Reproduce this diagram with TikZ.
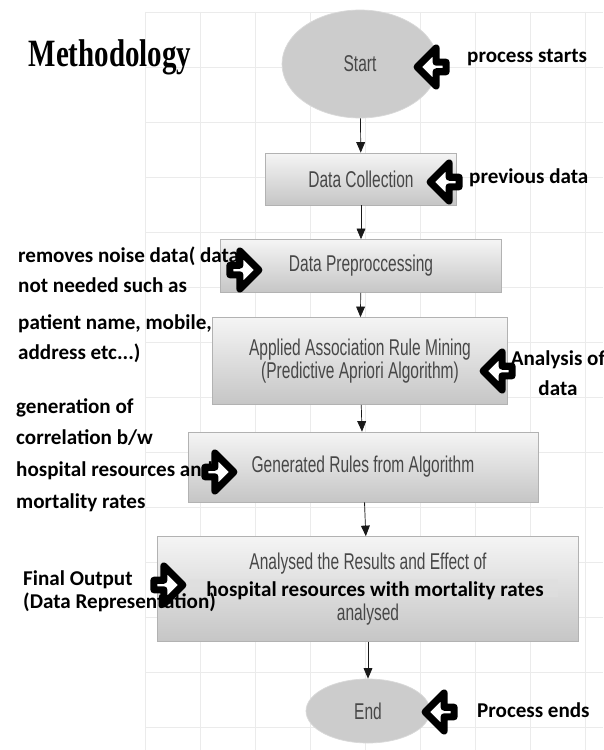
\documentclass[tikz,border=0pt]{standalone}
\usepackage{fontspec}
\setmainfont{Carlito}
\newfontfamily\boxfont{Liberation Sans}[FakeStretch=0.68]
\newfontfamily\titlefont{Liberation Serif}[FakeStretch=0.75]
\usepackage{tikz}
\usetikzlibrary{shapes.geometric, shapes.arrows, arrows.meta}
\definecolor{boxtext}{rgb}{0.28,0.28,0.28}
\definecolor{gridline}{rgb}{0.92,0.92,0.92}
\definecolor{ovalgray}{rgb}{0.8,0.8,0.8}

\begin{document}
\begin{tikzpicture}[x=0.02cm, y=-0.02cm,
    box/.style={rectangle, draw=gray!60, top color=gray!8, bottom color=gray!45, align=center, text=boxtext, font=\boxfont\fontsize{13}{14}\selectfont},
    oval/.style={ellipse, draw=gray!30, fill=ovalgray, text=boxtext, font=\boxfont\fontsize{13}{14}\selectfont},
    arrow/.style={-{Triangle[length=6pt,width=5pt]}, gray!20!black, thin},
    pointer/.style={single arrow, draw=black, line width=4pt, line join=round, fill=white, minimum height=0.58cm, minimum width=0.76cm, single arrow head extend=0.21cm, inner sep=0pt},
    note/.style={font=\bfseries\fontsize{12}{17}\selectfont, align=left, anchor=west}
]
\useasboundingbox (0,0) rectangle (603,750);
\fill[white] (0,0) rectangle (603,750);

% background grid
\foreach \gx in {145,200,...,600} \draw[gridline] (\gx,12) -- (\gx,750);
\foreach \gy in {12,67,...,750} \draw[gridline] (145,\gy) -- (603,\gy);

\node[font=\titlefont\bfseries\fontsize{22}{24}\selectfont] (title) at (110,57) {Methodology};

\node[oval, minimum width=3.12cm, minimum height=2.16cm] (start) at (360,64) {Start};
\node[box, minimum width=3.82cm, minimum height=1.04cm] (collect) at (361,179) {Data Collection};
\node[box, minimum width=5.62cm, minimum height=1.06cm] (prep) at (361,266) {Data Preproccessing};
\node[box, minimum width=5.9cm, minimum height=1.74cm] (mining) at (360,361) {Applied Association Rule Mining\\[-1pt](Predictive Apriori Algorithm)};
\node[box, minimum width=7cm, minimum height=1.4cm] (rules) at (363,467) {Generated Rules from Algorithm};
\node[box, minimum width=8.42cm, minimum height=2.1cm] (results) at (368,589) {Analysed the Results and Effect of\\[15pt]analysed};
\node[oval, minimum width=2.48cm, minimum height=1.28cm] (end) at (368,711) {End};

\node[fill=gray!25, opacity=0.6, minimum width=7.4cm, minimum height=0.36cm] (overlay) at (373,588) {};
\node[font=\bfseries\fontsize{12}{14}\selectfont] (effect) at (375,591) {hospital resources with mortality rates};

\draw[arrow] (start) -- (collect);
\draw[arrow] (collect) -- (prep);
\draw[arrow] (prep) -- (mining);
\draw[arrow] (mining) -- (rules);
\draw[arrow] (rules) -- (results);
\draw[arrow] (results) -- (end);

% side notes
\node[note] (startnote) at (461,58) {process starts};
\node[note] (collectnote) at (463,178) {previous data};
\node[note] (prepnote) at (12,305) {removes noise data( data\\not needed such as\\[4pt]patient name, mobile,\\address etc...)};
\node[note, align=center, anchor=center] (miningnote) at (558,373) {Analysis of\\data};
\node[note, font=\bfseries\fontsize{12}{18}\selectfont] (rulesnote) at (10,455) {generation of\\correlation b/w\\hospital resources and\\mortality rates};
\node[note, font=\bfseries\fontsize{12}{13}\selectfont] (resultsnote) at (17,591) {Final Output\\(Data Representation)};
\node[note] (endnote) at (471,710) {Process ends};

\node[pointer, shape border rotate=180] (startptr) at (434,67) {};
\node[pointer, shape border rotate=180] (collectptr) at (447,182) {};
\node[pointer] (prepptr) at (242,270) {};
\node[pointer, shape border rotate=180] (miningptr) at (500,371) {};
\node[pointer] (rulesptr) at (217,472) {};
\node[pointer] (resultsptr) at (166,585) {};
\node[pointer, shape border rotate=180] (endptr) at (442,712) {};

\end{tikzpicture}
\end{document}
